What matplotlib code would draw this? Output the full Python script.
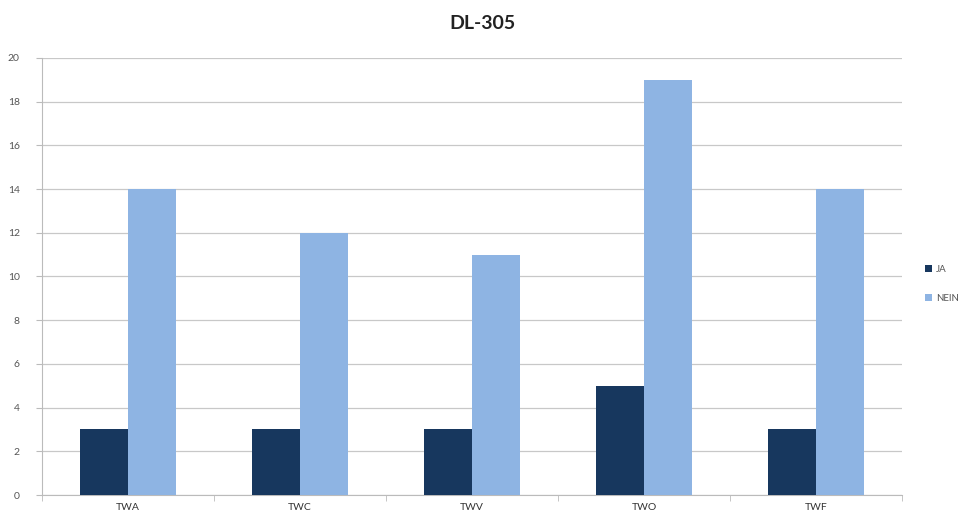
import matplotlib
matplotlib.use("Agg")
import matplotlib.pyplot as plt
import numpy as np

plt.rcParams['font.family'] = ['Lato', 'DejaVu Sans']

categories = ["TWA", "TWC", "TWV", "TWO", "TWF"]
ja = [3, 3, 3, 5, 3]
nein = [14, 12, 11, 19, 14]
y_ticks = [0, 2, 4, 6, 8, 10, 12, 14, 16, 18, 20]

fig = plt.figure(figsize=(9.70, 5.21), dpi=100)
ax = fig.add_axes([0.0433, 0.0499, 0.8867, 0.8388])

x = np.arange(len(categories))
w = 0.28
ax.bar(x - w / 2, ja, w, color="#17375E", label="JA", zorder=3)
ax.bar(x + w / 2, nein, w, color="#8EB4E3", label="NEIN", zorder=3)

ax.set_xlim(-0.5, len(categories) - 0.5)
ax.set_ylim(0, 20)
ax.set_yticks(y_ticks)
ax.set_yticklabels([str(t) for t in y_ticks], fontsize=7.5, color="#555555")
ax.set_xticks(x)
ax.set_xticklabels(categories, fontsize=7.5, color="#333333")
ax.tick_params(axis="x", length=0, pad=6)
ax.tick_params(axis="y", length=4, color="#BBBBBB", pad=12)
# tick marks between the category groups
ax.set_xticks(np.arange(-0.5, len(categories) + 0.5, 1), minor=True)
ax.tick_params(axis="x", which="minor", length=4, color="#BBBBBB")

ax.grid(axis="y", color="#C8C8C8", linewidth=0.9, zorder=0)
for side in ["top", "right"]:
    ax.spines[side].set_visible(False)
ax.spines["left"].set_color("#BBBBBB")
ax.spines["bottom"].set_color("#BBBBBB")

fig.text(0.497, 0.955, "DL-305", ha="center", va="center",
         fontsize=14, fontweight="bold", color="#222222")

fig.legend(loc="center left", bbox_to_anchor=(0.945, 0.455), frameon=False,
           fontsize=7, handlelength=0.7, handleheight=0.7, handletextpad=0.4,
           labelspacing=2.0, labelcolor="#555555")

fig.savefig("out.png", dpi=100, facecolor="white")
